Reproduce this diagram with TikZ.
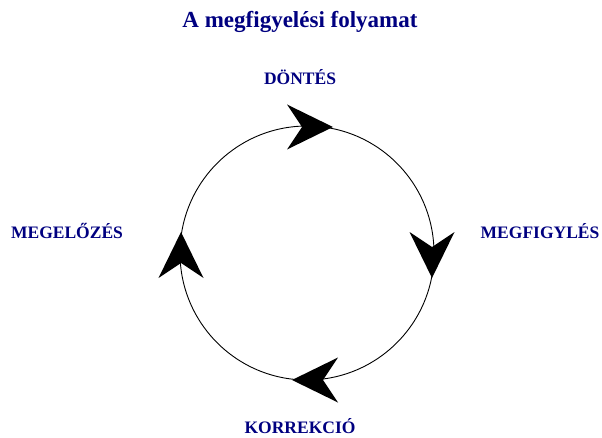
\documentclass[tikz,border=0pt]{standalone}
\usepackage{fontspec}
\setmainfont{Liberation Serif}
\definecolor{navyt}{RGB}{0,0,128}
\begin{document}
\begin{tikzpicture}[x=1pt,y=1pt,
  lbl/.style={text=navyt,font=\fontsize{17.5}{20}\selectfont\bfseries,inner sep=0pt,anchor=base},
  ttl/.style={text=navyt,font=\fontsize{23}{27}\selectfont\bfseries,inner sep=0pt,anchor=base}]
\useasboundingbox (0,0) rectangle (602,437);
\node[ttl] (title) at (300,409) {A megfigyelési folyamat};
\node[lbl] (dontes) at (300,352) {DÖNTÉS};
\node[lbl] (megfigy) at (540,199) {MEGFIGYLÉS};
\node[lbl] (korr) at (300,4) {KORREKCIÓ};
\node[lbl] (megel) at (67,199) {MEGELŐZÉS};
\node[circle,draw,line width=0.9pt,minimum size=254pt,inner sep=0pt] (cyc) at (307,184) {};
\foreach \px/\py/\r in {333/310/0, 432/159/-90, 292/57/180, 181/205/90}{
  \fill[shift={(\px,\py)},rotate=\r] (0,0) -- (-46,22.5) -- (-31,0) -- (-46,-22.5) -- cycle;
}
\end{tikzpicture}
\end{document}
